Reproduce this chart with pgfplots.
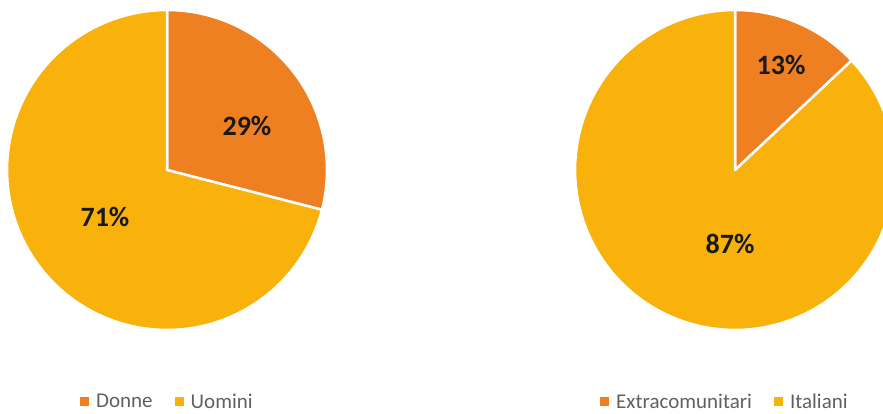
\documentclass[border=0pt]{standalone}
\usepackage{pgfplots}
\pgfplotsset{compat=1.18}
\usepackage{fontspec}
\setmainfont{Carlito}
\definecolor{pieorange}{HTML}{EF8021}
\definecolor{pieyellow}{HTML}{F9B20C}
\definecolor{leggray}{HTML}{606060}
% data (percentages)
\def\donne{29}
\def\uomini{71}
\def\extra{13}
\def\italiani{87}
\pgfmathsetmacro{\aD}{90-3.6*\donne}
\pgfmathsetmacro{\aE}{90-3.6*\extra}
\pgfplotsset{
  piebase/.style={
    scale only axis, hide axis, height=413pt, ymin=0, ymax=413,
    clip=true,
    legend columns=-1,
    legend image code/.code={\fill[##1,draw=none] (0pt,-4pt) rectangle (9pt,5pt);},
    legend style={draw=none, fill=none, inner sep=0pt,
      font=\fontsize{21}{21}\selectfont\color{leggray},
      /tikz/every even column/.append style={column sep=20pt},
      /tikz/every odd column/.append style={column sep=5pt}},
  },
  slice/.style={draw=white, line width=2.5pt, samples=90, variable=\t, line join=round},
}
\begin{document}
\begin{tikzpicture}
\begin{axis}[piebase, width=441.5pt, xmin=0, xmax=441.5,
  at={(0pt,0pt)}, anchor=south west,
  legend style={at={(axis cs:80,11)}, anchor=west}]
\addplot[slice, fill=pieorange, domain=\aD:90]
  ({167+160*cos(\t)},{243+160*sin(\t)}) -- (167,243) -- cycle;
\addlegendentry{Donne}
\addplot[slice, fill=pieyellow, domain=-270:\aD]
  ({167+160*cos(\t)},{243+160*sin(\t)}) -- (167,243) -- cycle;
\addlegendentry{Uomini}
\node[font=\bfseries\fontsize{28}{28}\selectfont, text=black!90] at (axis cs:247,287) {29\%};
\node[font=\bfseries\fontsize{28}{28}\selectfont, text=black!90] at (axis cs:105,196) {71\%};
\end{axis}
\begin{axis}[piebase, width=441.5pt, xmin=441.5, xmax=883,
  at={(441.5pt,0pt)}, anchor=south west,
  legend style={at={(axis cs:600,11)}, anchor=west}]
\addplot[slice, fill=pieorange, domain=\aE:90]
  ({735+160*cos(\t)},{243+160*sin(\t)}) -- (735,243) -- cycle;
\addlegendentry{Extracomunitari}
\addplot[slice, fill=pieyellow, domain=-270:\aE]
  ({735+160*cos(\t)},{243+160*sin(\t)}) -- (735,243) -- cycle;
\addlegendentry{Italiani}
\node[font=\bfseries\fontsize{28}{28}\selectfont, text=black!90] at (axis cs:781,348) {13\%};
\node[font=\bfseries\fontsize{28}{28}\selectfont, text=black!90] at (axis cs:730,169) {87\%};
\end{axis}
\pgfresetboundingbox
\path (0pt,0pt) rectangle (883pt,413pt);
\end{tikzpicture}
\end{document}
